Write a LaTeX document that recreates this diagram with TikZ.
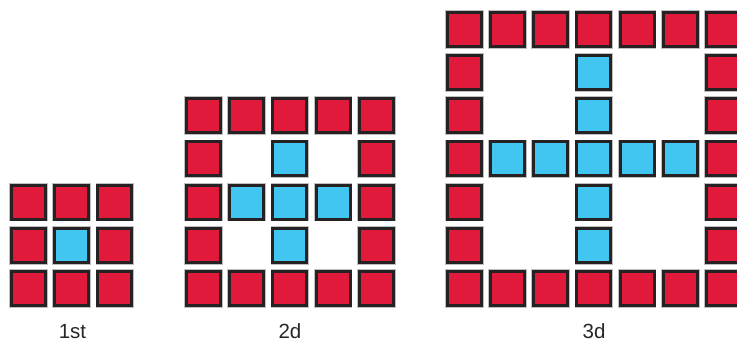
\documentclass[tikz,border=0pt]{standalone}
\usepackage{fontspec}
\setmainfont{Liberation Sans}
\definecolor{sqred}{RGB}{225,25,58}
\definecolor{sqblue}{RGB}{64,198,241}
\definecolor{sqedge}{RGB}{38,33,34}
\begin{document}
\begin{tikzpicture}[x=1pt,y=-1pt,
  tile/.style={draw=sqedge,line width=3pt,minimum size=34pt,inner sep=0pt,outer sep=0pt,
    preaction={draw=black!25,line width=4.6pt}},
  redtile/.style={tile,fill=sqred},
  bluetile/.style={tile,fill=sqblue},
  lab/.style={font=\fontsize{20.5}{23}\selectfont,text=black!85,inner sep=0pt}]
\useasboundingbox (0,0) rectangle (737,343);
\def\p{43.2}
% grid 1st (3x3)
\foreach \i in {0,1,2}{
  \node[redtile] (a-\i-0) at ({28.5+\i*\p},{288.5-2*\p}) {};
  \node[redtile] (a-\i-2) at ({28.5+\i*\p},288.5) {};
  \node[redtile] (a-0-\i) at (28.5,{288.5-(2-\i)*\p}) {};
  \node[redtile] (a-2-\i) at ({28.5+2*\p},{288.5-(2-\i)*\p}) {};
}
\node[bluetile] (a-1-1) at ({28.5+\p},{288.5-\p}) {};
% grid 2d (5x5)
\foreach \i in {0,...,4}{
  \node[redtile] (b-\i-0) at ({203.5+\i*\p},{288.5-4*\p}) {};
  \node[redtile] (b-\i-4) at ({203.5+\i*\p},288.5) {};
  \node[redtile] (b-0-\i) at (203.5,{288.5-(4-\i)*\p}) {};
  \node[redtile] (b-4-\i) at ({203.5+4*\p},{288.5-(4-\i)*\p}) {};
}
\foreach \i in {1,2,3}{
  \node[bluetile] (b-2-\i) at ({203.5+2*\p},{288.5-(4-\i)*\p}) {};
  \node[bluetile] (b-\i-2) at ({203.5+\i*\p},{288.5-2*\p}) {};
}
% grid 3d (7x7)
\foreach \i in {0,...,6}{
  \node[redtile] (c-\i-0) at ({464.2+\i*\p},{288.5-6*\p}) {};
  \node[redtile] (c-\i-6) at ({464.2+\i*\p},288.5) {};
  \node[redtile] (c-0-\i) at (464.2,{288.5-(6-\i)*\p}) {};
  \node[redtile] (c-6-\i) at ({464.2+6*\p},{288.5-(6-\i)*\p}) {};
}
\foreach \i in {1,...,5}{
  \node[bluetile] (c-3-\i) at ({464.2+3*\p},{288.5-(6-\i)*\p}) {};
  \node[bluetile] (c-\i-3) at ({464.2+\i*\p},{288.5-3*\p}) {};
}
% labels
\node[lab] (l1) at (72.5,331.5) {1st};
\node[lab] (l2) at (290,331.5) {2d};
\node[lab] (l3) at (594,331.5) {3d};
\end{tikzpicture}
\end{document}
